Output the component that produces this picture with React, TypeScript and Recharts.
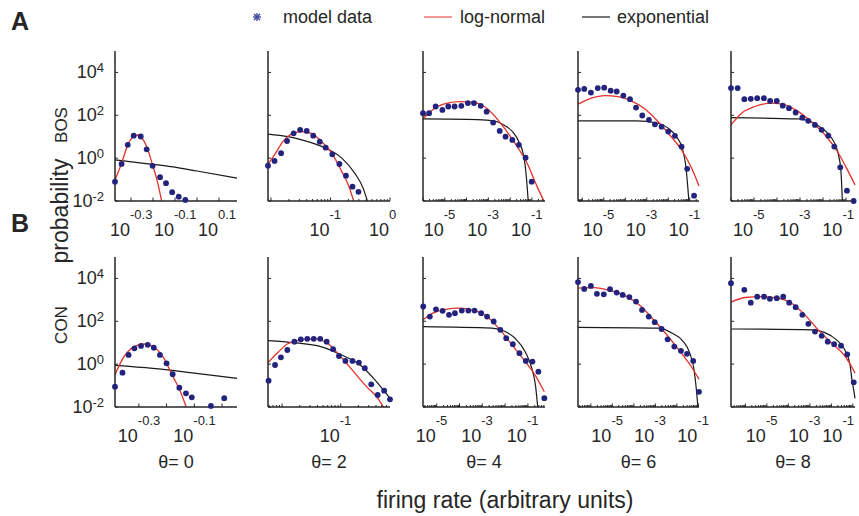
// Firing-rate distributions: model data vs log-normal / exponential fits,
// two stimulus classes (BOS, CON) x five thresholds θ. Log-log axes,
// values stored as log10 exponents and drawn on linear scales.

import React from "react";
import { ComposedChart, Line, Scatter, XAxis, YAxis } from "recharts";

type Pt = [number, number]; // [log10 rate, log10 probability]

const THETAS = ["0", "2", "4", "6", "8"];
const ROW_NAMES = ["BOS", "CON"];
const Y_TICKS = [-2, 0, 2, 4];

// ─── row A: BOS ─────────────────────────────────────────────────────────────
const bosT0Data: Pt[] = [[-0.373, -1.1], [-0.343, -0.27], [-0.315, 0.62], [-0.288, 1.05], [-0.256, 1.01], [-0.229, 0.41], [-0.202, -0.36], [-0.168, -0.89], [-0.141, -1.17], [-0.113, -1.59], [-0.083, -1.8], [-0.053, -1.95]];
const bosT0LogN: Pt[] = [[-0.373, -1.02], [-0.343, -0.24], [-0.315, 0.62], [-0.29, 1.0], [-0.267, 1.08], [-0.244, 0.85], [-0.226, 0.46], [-0.202, -0.32], [-0.18, -1.1], [-0.161, -2.0]];
const bosT0Exp: Pt[] = [[-0.373, -0.08], [-0.25, -0.23], [-0.109, -0.41], [0, -0.6], [0.182, -0.93]];

const bosT2Data: Pt[] = [[-2.05, -0.35], [-1.94, -0.13], [-1.83, 0.23], [-1.73, 0.8], [-1.62, 1.16], [-1.51, 1.32], [-1.4, 1.27], [-1.29, 1.05], [-1.18, 0.77], [-1.08, 0.49], [-0.97, 0.18], [-0.85, -0.27], [-0.74, -0.82], [-0.63, -1.33], [-0.53, -1.57]];
const bosT2LogN: Pt[] = [[-2.05, -0.29], [-1.94, 0.15], [-1.8, 0.77], [-1.63, 1.16], [-1.49, 1.24], [-1.32, 1.16], [-1.15, 0.77], [-0.98, 0.23], [-0.81, -0.63], [-0.7, -1.25], [-0.61, -2.0]];
const bosT2Exp: Pt[] = [[-2.05, 1.12], [-1.71, 1.0], [-1.38, 0.77], [-1.1, 0.49], [-0.81, 0.0], [-0.59, -0.71], [-0.45, -1.41], [-0.38, -2.0]];

const bosT4Data: Pt[] = [[-6.0, 2.1], [-5.72, 2.1], [-5.42, 2.41], [-5.11, 2.25], [-4.84, 2.41], [-4.55, 2.41], [-4.24, 2.44], [-3.94, 2.57], [-3.66, 2.57], [-3.35, 2.44], [-3.08, 2.17], [-2.78, 1.66], [-2.48, 1.27], [-2.21, 1.0], [-1.9, 0.85], [-1.6, 0.62], [-1.29, 0.02], [-1.01, -1.1]];
const bosT4LogN: Pt[] = [[-6.0, 1.83], [-5.47, 2.33], [-4.88, 2.57], [-4.28, 2.64], [-3.66, 2.6], [-3.05, 2.3], [-2.44, 1.63], [-1.83, 0.77], [-1.22, -0.24], [-0.76, -1.33], [-0.45, -2.0]];
const bosT4Exp: Pt[] = [[-6.0, 1.83], [-3.5, 1.8], [-2.74, 1.74], [-2.29, 1.55], [-1.83, 1.16], [-1.6, 0.77], [-1.37, 0.07], [-1.25, -0.94], [-1.17, -2.0]];

const bosT6Data: Pt[] = [[-6.2, 3.19], [-5.91, 3.23], [-5.6, 3.06], [-5.28, 3.27], [-4.98, 3.29], [-4.68, 3.15], [-4.4, 3.11], [-4.09, 2.92], [-3.78, 2.75], [-3.5, 2.36], [-3.21, 1.99], [-2.9, 1.79], [-2.62, 1.58], [-2.31, 1.47], [-2.0, 1.24], [-1.69, 1.04], [-1.38, 0.54], [-1.12, -0.5], [-0.8, -1.75]];
const bosT6LogN: Pt[] = [[-6.2, 2.52], [-5.58, 2.8], [-4.96, 2.92], [-4.34, 2.87], [-3.72, 2.67], [-3.1, 2.3], [-2.48, 1.71], [-1.86, 1.0], [-1.38, 0.38], [-0.91, -0.47], [-0.57, -1.3]];
const bosT6Exp: Pt[] = [[-6.2, 1.74], [-3.5, 1.74], [-2.48, 1.63], [-2.0, 1.4], [-1.62, 1.0], [-1.35, 0.46], [-1.19, -0.32], [-1.1, -1.25], [-1.04, -2.0]];

const bosT8Data: Pt[] = [[-6.0, 3.27], [-5.71, 3.27], [-5.42, 2.75], [-5.14, 2.77], [-4.86, 2.8], [-4.57, 2.8], [-4.3, 2.67], [-4.01, 2.67], [-3.75, 2.45], [-3.48, 2.33], [-3.19, 2.13], [-2.9, 1.89], [-2.64, 1.74], [-2.35, 1.55], [-2.06, 1.32], [-1.77, 1.05], [-1.51, 0.54], [-1.25, -0.43], [-0.96, -1.52], [-0.67, -2.0]];
const bosT8LogN: Pt[] = [[-6.0, 1.55], [-5.54, 2.1], [-4.96, 2.41], [-4.23, 2.57], [-3.65, 2.49], [-3.07, 2.17], [-2.49, 1.68], [-1.91, 1.08], [-1.33, 0.23], [-0.9, -0.63], [-0.61, -1.25]];
const bosT8Exp: Pt[] = [[-6.0, 1.89], [-3.07, 1.83], [-2.49, 1.68], [-2.06, 1.4], [-1.62, 0.93], [-1.36, 0.3], [-1.22, -0.63], [-1.16, -2.0]];

// ─── row B: CON ─────────────────────────────────────────────────────────────
const conT0Data: Pt[] = [[-0.386, -1.05], [-0.359, -0.4], [-0.337, 0.43], [-0.316, 0.74], [-0.292, 0.85], [-0.268, 0.9], [-0.246, 0.77], [-0.224, 0.43], [-0.2, 0.04], [-0.178, -0.47], [-0.154, -1.1], [-0.13, -1.36], [-0.109, -1.55], [-0.04, -1.95], [0.008, -1.59]];
const conT0LogN: Pt[] = [[-0.386, -0.5], [-0.364, 0.12], [-0.34, 0.58], [-0.317, 0.82], [-0.281, 0.94], [-0.246, 0.8], [-0.21, 0.28], [-0.18, -0.5], [-0.15, -1.29], [-0.129, -2.0]];
const conT0Exp: Pt[] = [[-0.386, -0.06], [-0.25, -0.2], [-0.1, -0.42], [0.054, -0.66]];

const conT2Data: Pt[] = [[-2.23, -0.77], [-2.12, -0.04], [-2.02, 0.32], [-1.91, 0.66], [-1.79, 1.05], [-1.68, 1.16], [-1.57, 1.18], [-1.46, 1.18], [-1.35, 1.18], [-1.24, 1.05], [-1.13, 0.7], [-1.03, 0.38], [-0.92, 0.15], [-0.8, 0.15], [-0.69, 0.07], [-0.59, -0.19], [-0.48, -0.94], [-0.37, -1.44], [-0.26, -1.24], [-0.16, -1.64]];
const conT2LogN: Pt[] = [[-2.24, 0.07], [-2.06, 0.58], [-1.91, 0.94], [-1.68, 1.13], [-1.46, 1.18], [-1.23, 0.98], [-1.01, 0.38], [-0.78, -0.35], [-0.56, -1.05], [-0.39, -1.52], [-0.27, -2.0]];
const conT2Exp: Pt[] = [[-2.24, 1.1], [-1.79, 1.0], [-1.34, 0.82], [-1.01, 0.46], [-0.67, -0.04], [-0.44, -0.66], [-0.27, -1.21], [-0.16, -1.59]];

const conT4Data: Pt[] = [[-5.59, 2.69], [-5.3, 2.22], [-5.03, 2.56], [-4.74, 2.49], [-4.46, 2.3], [-4.2, 2.38], [-3.9, 2.5], [-3.61, 2.5], [-3.34, 2.5], [-3.05, 2.38], [-2.79, 2.22], [-2.5, 1.99], [-2.21, 1.6], [-1.95, 1.21], [-1.66, 0.93], [-1.37, 0.51], [-1.09, 0.15], [-0.8, 0.12], [-0.54, -0.35], [-0.28, -1.59]];
const conT4LogN: Pt[] = [[-5.6, 2.07], [-5.17, 2.38], [-4.6, 2.56], [-4.02, 2.61], [-3.44, 2.53], [-2.86, 2.27], [-2.28, 1.68], [-1.7, 0.9], [-1.12, 0.12], [-0.69, -0.5], [-0.28, -1.29]];
const conT4Exp: Pt[] = [[-5.6, 1.75], [-2.58, 1.68], [-2.0, 1.52], [-1.56, 1.21], [-1.12, 0.58], [-0.83, -0.19], [-0.66, -1.05], [-0.57, -2.0]];

const conT6Data: Pt[] = [[-6.6, 3.83], [-6.31, 3.51], [-6.0, 3.65], [-5.72, 3.28], [-5.4, 3.26], [-5.11, 3.5], [-4.8, 3.34], [-4.52, 3.23], [-4.21, 3.13], [-3.9, 2.92], [-3.62, 2.53], [-3.31, 2.22], [-3.03, 1.96], [-2.71, 1.64], [-2.43, 1.16], [-2.12, 0.82], [-1.81, 0.62], [-1.53, 0.48], [-1.24, 0.15], [-0.97, -1.29]];
const conT6LogN: Pt[] = [[-6.6, 3.55], [-5.86, 3.57], [-5.09, 3.43], [-4.32, 3.15], [-3.7, 2.72], [-3.08, 2.07], [-2.46, 1.36], [-1.84, 0.58], [-1.38, -0.04], [-0.97, -0.7]];
const conT6Exp: Pt[] = [[-6.6, 1.72], [-2.83, 1.68], [-2.21, 1.44], [-1.74, 1.1], [-1.4, 0.51], [-1.2, -0.27], [-1.09, -1.21], [-1.02, -2.0]];

const conT8Data: Pt[] = [[-6.67, 3.78], [-6.05, 3.47], [-5.75, 2.87], [-5.45, 3.15], [-5.13, 3.15], [-4.86, 3.05], [-4.54, 3.08], [-4.24, 3.15], [-3.96, 2.87], [-3.66, 2.66], [-3.35, 2.3], [-3.07, 1.88], [-2.76, 1.52], [-2.45, 1.32], [-2.17, 1.05], [-1.87, 0.93], [-1.55, 0.86], [-1.26, 0.46], [-0.96, -0.85]];
const conT8LogN: Pt[] = [[-6.67, 2.89], [-6.02, 3.11], [-5.25, 3.15], [-4.47, 3.08], [-3.85, 2.84], [-3.23, 2.3], [-2.61, 1.6], [-1.99, 0.98], [-1.37, 0.38], [-0.96, -0.3], [-0.9, -0.42]];
const conT8Exp: Pt[] = [[-6.67, 1.64], [-2.92, 1.6], [-2.3, 1.47], [-1.76, 1.13], [-1.37, 0.66], [-1.13, -0.04], [-1.03, -0.82], [-0.96, -1.21], [-0.9, -1.6]];

// x-axis ranges (log10 units) and labelled exponents per panel
const BOS_DOMAINS: Pt[] = [[-0.373, 0.182], [-2.05, 0], [-6, -0.4], [-6.2, -0.57], [-6, -0.61]];
const CON_DOMAINS: Pt[] = [[-0.386, 0.054], [-2.24, -0.16], [-5.6, -0.25], [-6.6, -0.97], [-6.67, -0.9]];
const BOS_XLABELS = [["-0.3", "-0.1", "0.1"], ["-1", "0"], ["-5", "-3", "-1"], ["-5", "-3", "-1"], ["-5", "-3", "-1"]];
const CON_XLABELS = [["-0.3", "-0.1"], ["-1"], ["-5", "-3", "-1"], ["-5", "-3", "-1"], ["-5", "-3", "-1"]];
const THETA0_TICKS = [-0.4, -0.3, -0.2, -0.1, 0, 0.1];

// ─── layout ────────────────────────────────────────────────────────────────
const FONT = '"Liberation Sans", Arial, Helvetica, sans-serif';
const INK = "#262626";
const DOT = "#23237e";
const RED = "#e3322b";
const PAGE_W = 859;
const ROW_TOP = [51, 257];
const PLOT_H = 150;
const PLOT_LEFT = [115, 268, 423, 578, 731];
const PLOT_W = [122, 122, 122, 121, 124];
// axes take 1px (a 0px axis is not drawn), so the margins are 1px short
const M = { top: 6, right: 12, bottom: 43, left: 49 };

const xy = (pts: Pt[]) => pts.map(([x, y]) => ({ x, y }));

const PANELS = [
  [
    { data: bosT0Data, logn: bosT0LogN, expo: bosT0Exp },
    { data: bosT2Data, logn: bosT2LogN, expo: bosT2Exp },
    { data: bosT4Data, logn: bosT4LogN, expo: bosT4Exp },
    { data: bosT6Data, logn: bosT6LogN, expo: bosT6Exp },
    { data: bosT8Data, logn: bosT8LogN, expo: bosT8Exp },
  ].map((p, i) => ({ ...p, domain: BOS_DOMAINS[i], labels: BOS_XLABELS[i] })),
  [
    { data: conT0Data, logn: conT0LogN, expo: conT0Exp },
    { data: conT2Data, logn: conT2LogN, expo: conT2Exp },
    { data: conT4Data, logn: conT4LogN, expo: conT4Exp },
    { data: conT6Data, logn: conT6LogN, expo: conT6Exp },
    { data: conT8Data, logn: conT8LogN, expo: conT8Exp },
  ].map((p, i) => ({ ...p, domain: CON_DOMAINS[i], labels: CON_XLABELS[i] })),
];

// log-axis tick positions: decades plus the 2..9 minor ticks
function xTicks(domain: Pt, linearStep: boolean): number[] {
  const [lo, hi] = domain;
  const inside = (v: number) => v >= lo - 1e-9 && v <= hi + 1e-9;
  if (linearStep) return THETA0_TICKS.filter(inside);
  const out: number[] = [];
  for (let d = Math.floor(lo); d <= Math.ceil(hi); d++) {
    for (let k = 1; k <= 9; k++) out.push(d + Math.log10(k));
  }
  return out.filter(inside);
}

function XTick(props: any) {
  const { x, y, payload, labels, allMajor, maxX } = props;
  const v = payload.value as number;
  const lab = (labels as string[]).find((s) => Math.abs(Number(s) - v) < 1e-6);
  const major = allMajor || Math.abs(v - Math.round(v)) < 1e-6;
  // keep the exponent inside the page at the right edge
  const expW = lab ? lab.length * 7.3 : 0;
  const expX = Math.min(x - 1, maxX - expW);
  const tenX = Math.min(x + 1, expX);
  return (
    <g>
      <line x1={x} x2={x} y1={y} y2={y - (major ? 3.5 : 2)} stroke={INK} strokeWidth={1} />
      {lab && (
        <>
          <text x={expX} y={y + 18} fontSize={13} fill={INK} fontFamily={FONT}>{lab}</text>
          <text x={tenX} y={y + 35} textAnchor="end" fontSize={18} fill={INK} fontFamily={FONT}>10</text>
        </>
      )}
    </g>
  );
}

function YTick(props: any) {
  const { x, y, payload, showLabel } = props;
  return (
    <g>
      <line x1={x} x2={x + 3} y1={y} y2={y} stroke={INK} strokeWidth={1} />
      {showLabel && (
        <text x={x - 11} y={y + 6} textAnchor="end" fontSize={18} fill={INK} fontFamily={FONT}>
          10<tspan dy={-6} fontSize={13}>{payload.value}</tspan>
        </text>
      )}
    </g>
  );
}

const Dot = (p: any) => <circle cx={p.cx} cy={p.cy} r={2.9} fill={DOT} />;

function Panel({ row, col }: { row: number; col: number }) {
  const p = PANELS[row][col];
  const w = PLOT_W[col];
  const chartLeft = PLOT_LEFT[col] - M.left - 1;
  const maxX = PAGE_W - 2 - chartLeft;
  const axisLine = { stroke: INK, strokeWidth: 1.5 };
  return (
    <div style={{ position: "absolute", left: chartLeft, top: ROW_TOP[row] - M.top }}>
      <ComposedChart width={w + M.left + 1 + M.right} height={PLOT_H + M.top + M.bottom + 1} margin={M}>
        <XAxis
          type="number"
          dataKey="x"
          domain={p.domain}
          ticks={xTicks(p.domain, col === 0)}
          interval={0}
          height={1}
          tickSize={0}
          tickMargin={0}
          tickLine={false}
          axisLine={axisLine}
          tick={(t: any) => <XTick {...t} labels={p.labels} allMajor={col === 0} maxX={maxX} />}
        />
        <YAxis
          type="number"
          dataKey="y"
          domain={[-2, 5]}
          ticks={Y_TICKS}
          interval={0}
          width={1}
          tickSize={0}
          tickMargin={0}
          tickLine={false}
          axisLine={axisLine}
          tick={(t: any) => <YTick {...t} showLabel={col === 0} />}
        />
        <Scatter data={xy(p.data)} shape={Dot} isAnimationActive={false} />
        <Line data={xy(p.expo)} dataKey="y" type="monotone" stroke="#1a1a1a" strokeWidth={1.2} dot={false} activeDot={false} isAnimationActive={false} />
        <Line data={xy(p.logn)} dataKey="y" type="monotone" stroke={RED} strokeWidth={1.3} dot={false} activeDot={false} isAnimationActive={false} />
      </ComposedChart>
    </div>
  );
}

function Annotations() {
  const t = { fontFamily: FONT, fill: INK };
  return (
    <svg width={PAGE_W} height={516} style={{ position: "absolute", left: 0, top: 0 }}>
      <text x={11} y={30} fontSize={25} fontWeight="bold" {...t}>A</text>
      <text x={11} y={232} fontSize={25} fontWeight="bold" {...t}>B</text>

      {/* legend */}
      <g stroke="#4545a6" strokeWidth={1.4}>
        <line x1={253} x2={261} y1={17} y2={17} />
        <line x1={257} x2={257} y1={13} y2={21} />
        <line x1={254} x2={260} y1={14} y2={20} />
        <line x1={254} x2={260} y1={20} y2={14} />
      </g>
      <text x={283} y={23} fontSize={18} {...t}>model data</text>
      <line x1={424} x2={452} y1={17} y2={17} stroke={RED} strokeWidth={1} />
      <text x={460} y={23} fontSize={18} {...t}>log-normal</text>
      <line x1={582} x2={610} y1={17} y2={17} stroke="#1a1a1a" strokeWidth={1.2} />
      <text x={617} y={23} fontSize={18} {...t}>exponential</text>

      {/* row / axis names */}
      <text transform="translate(67,125) rotate(-90)" textAnchor="middle" fontSize={17} {...t}>{ROW_NAMES[0]}</text>
      <text transform="translate(67,325) rotate(-90)" textAnchor="middle" fontSize={17} {...t}>{ROW_NAMES[1]}</text>
      <text transform="translate(68,211) rotate(-90)" textAnchor="middle" fontSize={23} {...t}>probability</text>

      {THETAS.map((th, i) => (
        <text key={th} x={PLOT_LEFT[i] + PLOT_W[i] / 2} y={468} textAnchor="middle" fontSize={18} {...t}>
          {`θ= ${th}`}
        </text>
      ))}
      <text x={505} y={508} textAnchor="middle" fontSize={23} {...t}>firing rate (arbitrary units)</text>
    </svg>
  );
}

export default function App() {
  return (
    <div style={{ position: "absolute", left: 0, top: 0, width: PAGE_W, height: 516, overflow: "hidden", background: "#fff" }}>
      <Annotations />
      {[0, 1].map((r) => [0, 1, 2, 3, 4].map((c) => <Panel key={`${r}-${c}`} row={r} col={c} />))}
    </div>
  );
}
